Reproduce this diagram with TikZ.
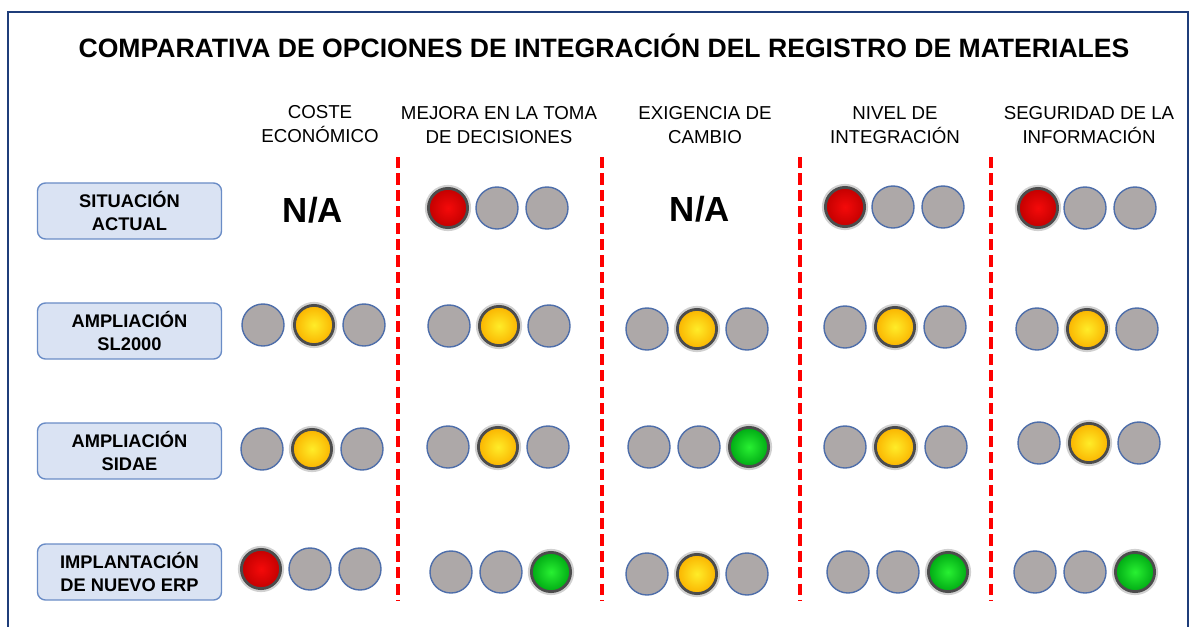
\documentclass[tikz,border=0pt]{standalone}
\usepackage{fontspec}
\setmainfont{Liberation Sans}
\usepackage{xcolor}
\usepackage{tikz}
\usetikzlibrary{positioning}

\definecolor{frameblue}{HTML}{1F3D7A}
\definecolor{boxfill}{HTML}{DAE3F3}
\definecolor{boxdraw}{HTML}{6A8CC6}
\definecolor{offfill}{HTML}{ADA8A8}
\definecolor{offdraw}{HTML}{4E6EAA}
\definecolor{sepred}{HTML}{FF0000}

\begin{document}
\begin{tikzpicture}
  [
    x=0.025cm, y=-0.025cm,
    rowlabel/.style={
       draw=boxdraw,
       fill=boxfill,
       line width=1pt,
       rounded corners=0.2cm,
       minimum width=4.6cm,
       minimum height=1.4cm,
       align=center,
       font=\bfseries\fontsize{13}{16.4}\selectfont
    },
    colhead/.style={
       align=center,
       font=\fontsize{13.3}{17}\selectfont
    },
    natext/.style={
       font=\bfseries\fontsize{24.8}{28}\selectfont
    },
    lampoff/.style={
       circle,
       minimum size=1.05cm,
       inner sep=0pt,
       draw=offdraw,
       line width=1pt,
       fill=offfill
    },
    lampon/.style={
       circle,
       minimum size=0.98cm,
       inner sep=0pt,
       preaction={draw=black!18, line width=5pt},
       draw=black!70,
       line width=2pt
    },
    lampred/.style={lampon, inner color={rgb,255:red,245;green,10;blue,10}, outer color={rgb,255:red,195;green,0;blue,0}},
    lampyellow/.style={lampon, inner color={rgb,255:red,255;green,236;blue,40}, outer color={rgb,255:red,250;green,180;blue,0}},
    lampgreen/.style={lampon, inner color={rgb,255:red,40;green,240;blue,50}, outer color={rgb,255:red,0;green,170;blue,20}},
    sep/.style={
       draw=sepred,
       line width=2.5pt,
       dash pattern=on 0.28cm off 0.13cm
    }
  ]
  \clip (0,0) rectangle (1191,626);
  \draw [frameblue, line width=1.4pt] (8,660) -- (8,12) -- (1188,12) -- (1188,660);

  \node (title) at (604,46) {\bfseries\fontsize{18.9}{22}\selectfont COMPARATIVA DE OPCIONES DE INTEGRACIÓN DEL REGISTRO DE MATERIALES};

  % cabeceras
  \node (hcoste) at (320,124) [colhead] {COSTE\\ECONÓMICO};
  \node (hmejora) at (499,125) [colhead] {MEJORA EN LA TOMA\\DE DECISIONES};
  \node (hexig) at (705,125) [colhead] {EXIGENCIA DE\\CAMBIO};
  \node (hnivel) at (895,125) [colhead] {NIVEL DE\\INTEGRACIÓN};
  \node (hseg) at (1089,125) [colhead] {SEGURIDAD DE LA\\INFORMACIÓN};

  % filas
  \node (rsit) at (129.5,211) [rowlabel] {SITUACIÓN\\ACTUAL};
  \node (rsl) at (129.5,331) [rowlabel] {AMPLIACIÓN\\SL2000};
  \node (rsid) at (129.5,451) [rowlabel] {AMPLIACIÓN\\SIDAE};
  \node (rerp) at (129.5,572) [rowlabel] {IMPLANTACIÓN\\DE NUEVO ERP};

  % separadores
  \draw [sep] (398,157) -- (398,600);
  \draw [sep] (602,157) -- (602,600);
  \draw [sep] (800,157) -- (800,600);
  \draw [sep] (991,157) -- (991,600);

  % situacion actual
  \node (na1) at (313,210) [natext] {N/A};
  \node (l1c2a) at ( 448,208) [lampred]    {};
  \node (l1c2b) at ( 497,208) [lampoff]    {};
  \node (l1c2c) at ( 547,208) [lampoff]    {};
  \node (na3) at (700,209) [natext] {N/A};
  \node (l1c4a) at ( 845,207) [lampred]    {};
  \node (l1c4b) at ( 893,207) [lampoff]    {};
  \node (l1c4c) at ( 943,207) [lampoff]    {};
  \node (l1c5a) at (1038,208) [lampred]    {};
  \node (l1c5b) at (1085,208) [lampoff]    {};
  \node (l1c5c) at (1135,208) [lampoff]    {};

  % ampliacion sl2000
  \node (l2c1a) at ( 263,325) [lampoff]    {};
  \node (l2c1b) at ( 314,325) [lampyellow] {};
  \node (l2c1c) at ( 364,325) [lampoff]    {};
  \node (l2c2a) at ( 449,326) [lampoff]    {};
  \node (l2c2b) at ( 499,326) [lampyellow] {};
  \node (l2c2c) at ( 549,326) [lampoff]    {};
  \node (l2c3a) at ( 647,329) [lampoff]    {};
  \node (l2c3b) at ( 697,329) [lampyellow] {};
  \node (l2c3c) at ( 747,329) [lampoff]    {};
  \node (l2c4a) at ( 845,327) [lampoff]    {};
  \node (l2c4b) at ( 895,327) [lampyellow] {};
  \node (l2c4c) at ( 945,327) [lampoff]    {};
  \node (l2c5a) at (1037,329) [lampoff]    {};
  \node (l2c5b) at (1087,329) [lampyellow] {};
  \node (l2c5c) at (1137,329) [lampoff]    {};

  % ampliacion sidae
  \node (l3c1a) at ( 262,449) [lampoff]    {};
  \node (l3c1b) at ( 312,449) [lampyellow] {};
  \node (l3c1c) at ( 362,449) [lampoff]    {};
  \node (l3c2a) at ( 448,447) [lampoff]    {};
  \node (l3c2b) at ( 498,447) [lampyellow] {};
  \node (l3c2c) at ( 548,447) [lampoff]    {};
  \node (l3c3a) at ( 649,447) [lampoff]    {};
  \node (l3c3b) at ( 699,447) [lampoff]    {};
  \node (l3c3c) at ( 749,447) [lampgreen]  {};
  \node (l3c4a) at ( 845,447) [lampoff]    {};
  \node (l3c4b) at ( 895,447) [lampyellow] {};
  \node (l3c4c) at ( 946,447) [lampoff]    {};
  \node (l3c5a) at (1039,443) [lampoff]    {};
  \node (l3c5b) at (1089,443) [lampyellow] {};
  \node (l3c5c) at (1139,443) [lampoff]    {};

  % nuevo erp
  \node (l4c1a) at ( 261,569) [lampred]    {};
  \node (l4c1b) at ( 310,569) [lampoff]    {};
  \node (l4c1c) at ( 360,569) [lampoff]    {};
  \node (l4c2a) at ( 451,572) [lampoff]    {};
  \node (l4c2b) at ( 501,572) [lampoff]    {};
  \node (l4c2c) at ( 551,572) [lampgreen]  {};
  \node (l4c3a) at ( 647,574) [lampoff]    {};
  \node (l4c3b) at ( 697,574) [lampyellow] {};
  \node (l4c3c) at ( 747,574) [lampoff]    {};
  \node (l4c4a) at ( 848,572) [lampoff]    {};
  \node (l4c4b) at ( 898,572) [lampoff]    {};
  \node (l4c4c) at ( 948,572) [lampgreen]  {};
  \node (l4c5a) at (1035,572) [lampoff]    {};
  \node (l4c5b) at (1085,572) [lampoff]    {};
  \node (l4c5c) at (1135,572) [lampgreen]  {};
\end{tikzpicture}
\end{document}
